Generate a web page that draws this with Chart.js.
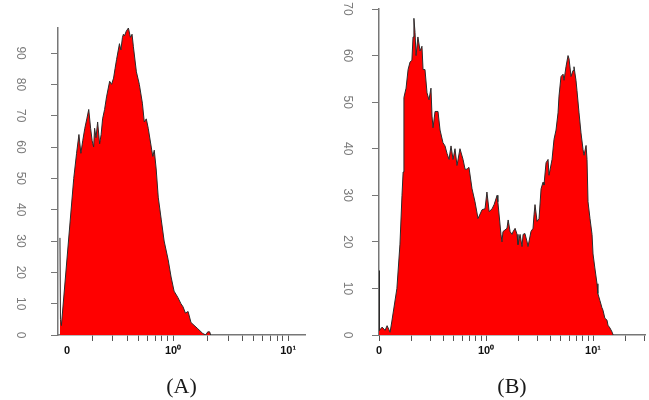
<!DOCTYPE html>
<html>
<head>
<meta charset="utf-8">
<script src="https://cdn.jsdelivr.net/npm/chart.js@4"></script>
<style>
  body { margin: 0; background: #fff; }
  #wrap { position: relative; width: 649px; height: 400px; background: #fff; }
  canvas { position: absolute; top: 0; }
  #histA { left: 0; }
  #histB { left: 320px; }
</style>
</head>
<body>
<div id="wrap">
  <canvas id="histA" width="320" height="400"></canvas>
  <canvas id="histB" width="329" height="400"></canvas>
</div>
<script>
// panel A: fluorescence (log) vs count
const xA = [0.104, 0.105, 0.107, 0.137, 0.145, 0.152, 0.158, 0.164, 0.171, 0.178, 0.185, 0.192, 0.198, 0.204, 0.208, 0.214, 0.221, 0.230, 0.237, 0.244, 0.254, 0.264, 0.281, 0.292, 0.304, 0.313, 0.323, 0.342, 0.352, 0.363, 0.370, 0.378, 0.392, 0.409, 0.426, 0.440, 0.452, 0.480, 0.509, 0.541, 0.562, 0.585, 0.608, 0.646, 0.666, 0.686, 0.713, 0.743, 0.788, 0.836, 0.906, 0.961, 1.02, 1.10, 1.17, 1.22, 1.28, 1.35, 1.43, 1.64, 1.81, 1.92, 2.00, 2.08, 2.12];
const yA = [31, 5, 3, 50, 58, 64, 58, 62, 66, 69, 72, 66, 62, 60, 66, 63, 68, 61, 64, 69, 72, 76, 81, 80, 82, 85, 88, 93, 91, 95, 96, 95.5, 97, 98, 95, 96, 92, 84, 80, 74, 68, 69, 66, 60, 57, 59, 53, 44, 37, 30, 24, 18.5, 14, 12, 10, 9, 7, 7.5, 4, 2, 0.5, 0, 1, 1, 0];

// panel B
const xB = [0.100, 0.101, 0.107, 0.114, 0.119, 0.127, 0.132, 0.147, 0.157, 0.164, 0.168, 0.171, 0.179, 0.187, 0.195, 0.203, 0.208, 0.212, 0.217, 0.222, 0.231, 0.242, 0.252, 0.258, 0.269, 0.281, 0.293, 0.306, 0.313, 0.320, 0.334, 0.356, 0.372, 0.396, 0.414, 0.432, 0.451, 0.471, 0.492, 0.513, 0.536, 0.571, 0.610, 0.637, 0.664, 0.693, 0.740, 0.789, 0.842, 0.918, 0.979, 1.02, 1.07, 1.14, 1.19, 1.27, 1.29, 1.38, 1.41, 1.44, 1.57, 1.61, 1.68, 1.75, 1.79, 1.87, 1.95, 1.99, 2.08, 2.17, 2.22, 2.31, 2.42, 2.47, 2.63, 2.75, 2.81, 2.87, 3.00, 3.13, 3.27, 3.41, 3.48, 3.64, 3.80, 3.88, 4.14, 4.32, 4.51, 4.71, 4.81, 5.02, 5.25, 5.36, 5.59, 5.84, 5.97, 6.23, 6.50, 6.64, 6.93, 7.08, 7.40, 7.72, 8.07, 8.24, 8.61, 8.79, 8.98, 9.37, 9.79, 10.0, 10.4, 10.9, 11.1, 11.6, 12.1, 12.4, 12.9, 13.5, 13.8, 14.4, 15.1, 15.4];
const yB = [13.8, 1, 1.7, 1, 2, 0.6, 3, 10, 19.5, 30, 35, 51, 53, 57, 58.6, 59, 64, 68, 65, 60, 64, 61, 62, 57, 57, 52, 50.5, 53, 47, 44.5, 48, 48, 44, 41.3, 40.6, 39, 37.7, 40.6, 37.7, 40, 36.4, 40, 37.7, 35.6, 35.6, 36, 31.4, 28.6, 25, 26.9, 27.1, 30.7, 26.5, 27.1, 28, 30, 28.6, 21.6, 20, 22.2, 22.9, 24.7, 22.2, 21.6, 22.2, 22.9, 21.6, 19.4, 21.6, 19, 21.6, 21.8, 20, 19, 22.2, 22.9, 25.8, 28, 24.4, 25, 31.4, 32.8, 32.2, 37, 37.7, 34.3, 37.7, 42, 44, 47.7, 51.3, 55.5, 56, 54.7, 57.6, 60, 59.3, 55.5, 56.8, 57.6, 54.7, 52.5, 47.7, 43.4, 39.8, 38.6, 40.7, 37.7, 28.6, 25, 21.6, 17.4, 14.4, 11, 8.9, 7.4, 5.9, 5.3, 3.6, 3.2, 2.1, 1.5, 0.6, 0];

// axis ticks
const xTicksA = [0.12, 0.2, 0.3, 0.4, 0.5, 0.6, 0.7, 0.8, 0.9, 1, 2, 3, 4, 5, 6, 7, 8, 9, 10];
const xTicksB = [0.1, 0.2, 0.3, 0.4, 0.5, 0.6, 0.7, 0.8, 0.9, 1, 2, 3, 4, 5, 6, 7, 8, 9, 10, 20, 30];
const xZeroA = 0.12;
const xZeroB = 0.1;
const decadeLabels = { 1: '10\u2070', 10: '10\u00b9' };
const yTicksA = [0, 10, 20, 30, 40, 50, 60, 70, 80, 90];
const yTicksB = [0, 10, 20, 30, 40, 50, 60, 70];

function makeHist(id, xs, ys, cfg) {
    const pts = xs.map((x, i) => ({ x: x, y: ys[i] }));
    return new Chart(document.getElementById(id), {
        type: 'line',
        data: {
            datasets: [{
                data: pts,
                borderColor: '#2b2b2b',
                borderWidth: 1,
                backgroundColor: '#ff0000',
                fill: 'origin',
                pointRadius: 0,
                tension: 0
            }]
        },
        options: {
            responsive: false,
            animation: false,
            devicePixelRatio: 1,
            layout: { padding: { top: cfg.top, right: cfg.right, left: 0, bottom: 0 } },
            plugins: {
                legend: { display: false },
                tooltip: { enabled: false },
                title: {
                    display: true,
                    text: cfg.title,
                    position: 'bottom',
                    fullSize: false,
                    color: '#1a1a1a',
                    font: { family: 'Liberation Serif', size: 22, weight: 'normal' },
                    padding: { top: 0, bottom: 0 }
                }
            },
            scales: {
                x: {
                    type: 'logarithmic',
                    min: cfg.xMin,
                    max: cfg.xMax,
                    afterFit: s => { s.height = 38.6; s.paddingLeft = 0; s.paddingRight = 0; },
                    afterBuildTicks: s => { s.ticks = cfg.xTicks.map(v => ({ value: v })); },
                    grid: {
                        drawOnChartArea: false,
                        tickLength: 6,
                        color: c => (c.tick && c.tick.value === cfg.xZero && cfg.xZero !== cfg.xMin) ? 'rgba(0,0,0,0)' : '#555'
                    },
                    border: { color: '#777', width: 1.5 },
                    ticks: {
                        autoSkip: false,
                        maxRotation: 0,
                        padding: 3,
                        color: '#111',
                        font: { family: 'Liberation Sans', size: 11, weight: 'bold' },
                        callback: v => v === cfg.xZero ? '0' : (decadeLabels[v] || '')
                    }
                },
                y: {
                    min: 0,
                    max: cfg.yMax,
                    afterFit: s => { s.width = cfg.left; s.paddingTop = 0; s.paddingBottom = 0; },
                    afterBuildTicks: s => { s.ticks = cfg.yTicks.map(v => ({ value: v })); },
                    grid: { drawOnChartArea: false, tickLength: 7, color: '#777' },
                    border: { color: '#777', width: 1.5 },
                    ticks: {
                        minRotation: -90,
                        maxRotation: -90,
                        crossAlign: 'center',
                        padding: cfg.labelPad,
                        color: '#7a7a7a',
                        font: { family: 'Liberation Sans', size: 12 }
                    }
                }
            }
        }
    });
}

makeHist('histA', xA, yA, {
    title: '(A)', top: 28, right: 15, left: 58, labelPad: 24,
    xMin: 0.1, xMax: 14, xTicks: xTicksA, xZero: xZeroA,
    yMax: 98, yTicks: yTicksA
});

makeHist('histB', xB, yB, {
    title: '(B)', top: 9, right: 4, left: 59, labelPad: 18,
    xMin: 0.1, xMax: 30.6, xTicks: xTicksB, xZero: xZeroB,
    yMax: 70, yTicks: yTicksB
});
</script>
</body>
</html>
